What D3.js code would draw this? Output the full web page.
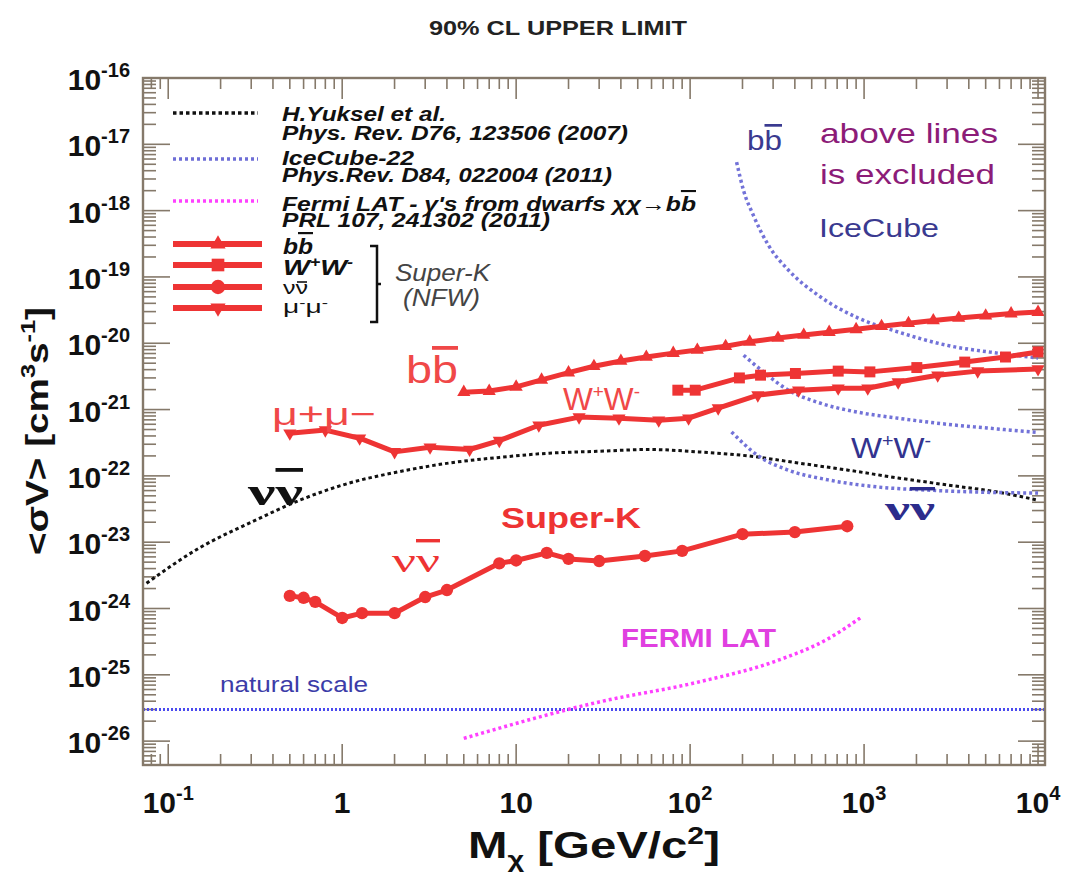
<!DOCTYPE html>
<html>
<head>
<meta charset="utf-8">
<script src="https://cdn.jsdelivr.net/npm/d3@7"></script>
<style>
  body { margin: 0; background: #fff; }
  text { font-family: "Liberation Sans", Arial, sans-serif; }
</style>
</head>
<body>
<svg id="chart" width="1069" height="877"></svg>
<script>
// ---- data (mass in GeV, <sigma v> in cm^3/s) ----
const yukselMass = [0.075, 0.15, 0.3, 0.57, 1.1, 2.1, 4.1, 8, 15.5, 30, 58, 112, 216, 420, 810, 1570, 3000, 5850, 10000];
const yukselSigv = [2.4e-24, 8.1e-24, 2.0e-23, 4.3e-23, 7.8e-23, 1.15e-22, 1.56e-22, 1.9e-22, 2.2e-22, 2.35e-22, 2.5e-22, 2.3e-22, 2.0e-22, 1.56e-22, 1.22e-22, 9.3e-23, 7.3e-23, 5.7e-23, 4.3e-23];

const icBBMass = [185, 203, 231, 282, 367, 544, 925, 1570, 3000, 5850, 10000];
const icBBSigv = [5.4e-18, 2.0e-18, 8.5e-19, 3.0e-19, 1.27e-19, 5.3e-20, 2.4e-20, 1.48e-20, 9.3e-21, 7.1e-21, 6.0e-21];

const icWWMass = [203, 264, 367, 544, 925, 1570, 3000, 5850, 10000];
const icWWSigv = [6.6e-21, 3.7e-21, 1.96e-21, 1.28e-21, 9.1e-22, 7.4e-22, 6.0e-22, 5.1e-22, 4.5e-22];

const icNuMass = [173, 247, 367, 622, 1200, 2330, 4500, 10000];
const icNuSigv = [4.6e-22, 2.0e-22, 1.22e-22, 8.7e-23, 6.8e-23, 6.1e-23, 5.7e-23, 5.5e-23];

const fermiMass = [5, 30, 112, 321, 622, 950];
const fermiSigv = [1.1e-26, 3.9e-26, 7.8e-26, 1.66e-25, 3.5e-25, 7.2e-25];

const naturalScale = 3e-26;

const skBBMass = [5, 7, 10, 14, 20, 28, 40, 56, 80, 110, 160, 220, 320, 450, 630, 900, 1260, 1800, 2500, 3500, 5000, 7000, 10000];
const skBBSigv = [1.83e-21, 1.9e-21, 2.2e-21, 2.8e-21, 3.6e-21, 4.5e-21, 5.4e-21, 6.2e-21, 7.1e-21, 7.9e-21, 9.0e-21, 1.05e-20, 1.2e-20, 1.33e-20, 1.47e-20, 1.62e-20, 1.8e-20, 2.0e-20, 2.2e-20, 2.4e-20, 2.6e-20, 2.8e-20, 2.95e-20];

const skWWMass = [85, 107, 192, 254, 403, 710, 1080, 2010, 3790, 6500, 10000];
const skWWSigv = [1.96e-21, 1.96e-21, 3.0e-21, 3.3e-21, 3.5e-21, 3.8e-21, 3.7e-21, 4.3e-21, 5.2e-21, 6.2e-21, 7.4e-21];

const skMuMass = [0.5, 0.8, 1.26, 2, 3.2, 5.4, 8, 13.5, 23, 39, 66, 98, 145, 245, 420, 710, 1050, 1570, 2650, 4500, 10000];
const skMuSigv = [4.4e-22, 4.9e-22, 3.7e-22, 2.3e-22, 2.7e-22, 2.5e-22, 3.4e-22, 5.8e-22, 7.7e-22, 7.4e-22, 6.9e-22, 7.4e-22, 1.05e-21, 1.65e-21, 1.96e-21, 2.1e-21, 2.1e-21, 2.6e-21, 3.3e-21, 3.8e-21, 4.1e-21];

const skNuMass = [0.5, 0.6, 0.7, 1, 1.3, 2, 3, 4, 8, 10, 15, 20, 30, 55, 90, 200, 400, 800];
const skNuSigv = [1.55e-24, 1.45e-24, 1.26e-24, 7.2e-25, 8.5e-25, 8.5e-25, 1.49e-24, 1.9e-24, 4.8e-24, 5.3e-24, 6.9e-24, 5.6e-24, 5.2e-24, 6.2e-24, 7.4e-24, 1.32e-23, 1.42e-23, 1.74e-23];

const xTickVals = [0.1, 1, 10, 100, 1000, 10000];
const xTickBase = ["10", "1", "10", "10", "10", "10"];
const xTickExp = ["-1", "", "", "2", "3", "4"];
const yTickExps = [-16, -17, -18, -19, -20, -21, -22, -23, -24, -25, -26];

// ---- layout ----
const plot = { left: 143, right: 1045, top: 78, bottom: 765 };
const red = "#ee3434";
const axisCol = "#85796a";

const svg = d3.select("#chart");

const x = d3.scaleLog()
  .domain([Math.pow(10, -1.145), Math.pow(10, 4.04)])
  .range([plot.left, plot.right]);
const y = d3.scaleLog()
  .domain([Math.pow(10, -26.36), 1e-16])
  .range([plot.bottom, plot.top]);

// stretch a text to a given width (the reference fonts run wide)
function fit(t, w) {
  return t.attr("textLength", w).attr("lengthAdjust", "spacingAndGlyphs");
}

svg.append("defs").append("clipPath").attr("id", "clip")
  .append("rect")
  .attr("x", plot.left).attr("y", plot.top)
  .attr("width", plot.right - plot.left).attr("height", plot.bottom - plot.top);

// ticks on all four sides, pointing inward
function logTicks(scale) {
  const [lo, hi] = scale.domain();
  const out = [];
  for (let e = Math.floor(Math.log10(lo)); e <= Math.ceil(Math.log10(hi)); e++) {
    for (let m = 1; m <= 9; m++) {
      const v = m * Math.pow(10, e);
      if (v >= lo * 0.9999 && v <= hi * 1.0001) out.push({ v: v, major: m === 1 });
    }
  }
  return out;
}

const ticksG = svg.append("g").attr("stroke", axisCol).attr("stroke-width", 1.6);
logTicks(x).forEach(t => {
  const len = t.major ? 21 : 11;
  ticksG.append("line").attr("x1", x(t.v)).attr("x2", x(t.v))
    .attr("y1", plot.bottom).attr("y2", plot.bottom - len);
  ticksG.append("line").attr("x1", x(t.v)).attr("x2", x(t.v))
    .attr("y1", plot.top).attr("y2", plot.top + len);
});
logTicks(y).forEach(t => {
  const len = t.major ? 27 : 13;
  ticksG.append("line").attr("y1", y(t.v)).attr("y2", y(t.v))
    .attr("x1", plot.left).attr("x2", plot.left + len);
  ticksG.append("line").attr("y1", y(t.v)).attr("y2", y(t.v))
    .attr("x1", plot.right).attr("x2", plot.right - len);
});

// tick labels
xTickVals.forEach((v, i) => {
  const t = svg.append("text")
    .attr("x", x(v)).attr("y", 813)
    .attr("text-anchor", "middle")
    .attr("font-weight", "bold").attr("font-size", 30).attr("fill", "#111");
  t.append("tspan").text(xTickBase[i]);
  if (xTickExp[i]) t.append("tspan").attr("dy", -13).attr("font-size", 20).text(xTickExp[i]);
});
yTickExps.forEach(e => {
  const t = svg.append("text")
    .attr("x", 130).attr("y", y(Math.pow(10, e)) + 12)
    .attr("text-anchor", "end")
    .attr("font-weight", "bold").attr("font-size", 30).attr("fill", "#111");
  t.append("tspan").text("10");
  t.append("tspan").attr("dy", -13).attr("font-size", 20).text(String(e));
});

// ---- curves ----
const line = d3.line().x(d => x(d[0])).y(d => y(d[1])).curve(d3.curveMonotoneX);
const straight = d3.line().x(d => x(d[0])).y(d => y(d[1]));
const zip = (a, b) => a.map((m, i) => [m, b[i]]);
const curves = svg.append("g").attr("clip-path", "url(#clip)");

curves.append("line")
  .attr("x1", plot.left).attr("x2", plot.right)
  .attr("y1", y(naturalScale)).attr("y2", y(naturalScale))
  .attr("stroke", "#4b4bef").attr("stroke-width", 3).attr("stroke-dasharray", "2,2");

curves.append("path").datum(zip(yukselMass, yukselSigv))
  .attr("d", line).attr("fill", "none")
  .attr("stroke", "#111").attr("stroke-width", 3).attr("stroke-dasharray", "3.5,3");

[[icBBMass, icBBSigv], [icWWMass, icWWSigv], [icNuMass, icNuSigv]].forEach(s => {
  curves.append("path").datum(zip(s[0], s[1]))
    .attr("d", line).attr("fill", "none")
    .attr("stroke", "#7272d8").attr("stroke-width", 3.5).attr("stroke-dasharray", "3,3");
});

curves.append("path").datum(zip(fermiMass, fermiSigv))
  .attr("d", line).attr("fill", "none")
  .attr("stroke", "#ff40ff").attr("stroke-width", 3.5).attr("stroke-dasharray", "3,3");

const skSeries = [
  { m: skBBMass, s: skBBSigv, sym: d3.symbolTriangle, size: 75, rot: 0 },
  { m: skWWMass, s: skWWSigv, sym: d3.symbolSquare, size: 120, rot: 0 },
  { m: skMuMass, s: skMuSigv, sym: d3.symbolTriangle, size: 75, rot: 180 },
  { m: skNuMass, s: skNuSigv, sym: d3.symbolCircle, size: 120, rot: 0 }
];
skSeries.forEach(sr => {
  const pts = zip(sr.m, sr.s);
  curves.append("path").datum(pts)
    .attr("d", straight).attr("fill", "none")
    .attr("stroke", red).attr("stroke-width", 5).attr("stroke-linejoin", "round");
  curves.selectAll(null).data(pts).enter().append("path")
    .attr("d", d3.symbol().type(sr.sym).size(sr.size))
    .attr("transform", d => `translate(${x(d[0])},${y(d[1])}) rotate(${sr.rot})`)
    .attr("fill", red);
});

// frame
svg.append("rect")
  .attr("x", plot.left).attr("y", plot.top)
  .attr("width", plot.right - plot.left).attr("height", plot.bottom - plot.top)
  .attr("fill", "none").attr("stroke", axisCol).attr("stroke-width", 2.4);

// ---- titles ----
fit(svg.append("text").attr("x", 558).attr("y", 35).attr("text-anchor", "middle")
  .attr("font-weight", "bold").attr("font-size", 21).attr("fill", "#222")
  .text("90% CL UPPER LIMIT"), 258);

const yt = svg.append("text")
  .attr("transform", "translate(48,431) rotate(-90)")
  .attr("text-anchor", "middle")
  .attr("font-weight", "bold").attr("font-size", 32).attr("fill", "#111");
yt.append("tspan").text("<σV> [cm");
yt.append("tspan").attr("dy", -13).attr("font-size", 21).text("3");
yt.append("tspan").attr("dy", 13).text("s");
yt.append("tspan").attr("dy", -13).attr("font-size", 21).text("-1");
yt.append("tspan").attr("dy", 13).text("]");
fit(yt, 248);

const xt = svg.append("text")
  .attr("x", 594).attr("y", 858).attr("text-anchor", "middle")
  .attr("font-weight", "bold").attr("font-size", 36).attr("fill", "#111");
xt.append("tspan").text("M");
xt.append("tspan").attr("dy", 9).attr("font-size", 22).text("χ");
xt.append("tspan").attr("dy", -9).text(" [GeV/c");
xt.append("tspan").attr("dy", -14).attr("font-size", 23).text("2");
xt.append("tspan").attr("dy", 14).text("]");
fit(xt, 252);

// ---- legend ----
const leg = svg.append("g");
const legDotted = [
  { y: 113, col: "#111", dash: "3.5,3", l1: "H.Yuksel et al.", l2: "Phys. Rev. D76, 123506 (2007)", b1: 121, b2: 140, w1: 164, w2: 346 },
  { y: 159, col: "#6e6ed6", dash: "3,3", l1: "IceCube-22", l2: "Phys.Rev. D84, 022004 (2011)", b1: 165, b2: 182, w1: 132, w2: 330 },
  { y: 201, col: "#ff40ff", dash: "3,3", l1: "Fermi LAT - γ's from dwarfs χχ→b", l2: "PRL 107, 241302 (2011)", b1: 211, b2: 227, w1: 414, w2: 268 }
];
legDotted.forEach((d, i) => {
  leg.append("line").attr("x1", 173).attr("x2", 258).attr("y1", d.y).attr("y2", d.y)
    .attr("stroke", d.col).attr("stroke-width", 3.5).attr("stroke-dasharray", d.dash);
  const t1 = leg.append("text").attr("x", 282).attr("y", d.b1)
    .attr("font-weight", "bold").attr("font-style", "italic").attr("font-size", 21).attr("fill", "#111");
  t1.append("tspan").text(d.l1);
  if (i === 2) t1.append("tspan").style("text-decoration", "overline").text("b");
  fit(t1, d.w1);
  fit(leg.append("text").attr("x", 282).attr("y", d.b2)
    .attr("font-weight", "bold").attr("font-style", "italic").attr("font-size", 21).attr("fill", "#111")
    .text(d.l2), d.w2);
});

const legRed = [
  { y: 244, sym: d3.symbolTriangle, size: 100, rot: 0 },
  { y: 265, sym: d3.symbolSquare, size: 160, rot: 0 },
  { y: 287, sym: d3.symbolCircle, size: 160, rot: 0 },
  { y: 308, sym: d3.symbolTriangle, size: 100, rot: 180 }
];
legRed.forEach(d => {
  leg.append("line").attr("x1", 173).attr("x2", 262).attr("y1", d.y).attr("y2", d.y)
    .attr("stroke", red).attr("stroke-width", 6);
  leg.append("path").attr("d", d3.symbol().type(d.sym).size(d.size)())
    .attr("transform", `translate(218,${d.y}) rotate(${d.rot})`).attr("fill", red);
});
const lb = leg.append("text").attr("x", 283).attr("y", 254)
  .attr("font-weight", "bold").attr("font-style", "italic").attr("font-size", 22).attr("fill", "#111");
lb.append("tspan").text("b");
lb.append("tspan").style("text-decoration", "overline").text("b");
fit(lb, 30);
const lw = leg.append("text").attr("x", 283).attr("y", 275)
  .attr("font-weight", "bold").attr("font-style", "italic").attr("font-size", 22).attr("fill", "#111");
lw.append("tspan").text("W");
lw.append("tspan").attr("dy", -8).attr("font-size", 14).text("+");
lw.append("tspan").attr("dy", 8).text("W");
lw.append("tspan").attr("dy", -8).attr("font-size", 14).text("-");
fit(lw, 70);
fit(leg.append("text").attr("x", 283).attr("y", 294)
  .attr("font-size", 18).attr("fill", "#111").text("νν"), 25);
// bar over the second nu, just above its x-height
leg.append("line").attr("x1", 297).attr("x2", 307).attr("y1", 282).attr("y2", 282)
  .attr("stroke", "#111").attr("stroke-width", 1.6);
const lm = leg.append("text").attr("x", 283).attr("y", 313)
  .attr("font-size", 18).attr("fill", "#111");
lm.append("tspan").text("μ");
lm.append("tspan").attr("dy", -6).attr("font-size", 12).text("-");
lm.append("tspan").attr("dy", 6).text("μ");
lm.append("tspan").attr("dy", -6).attr("font-size", 12).text("-");
fit(lm, 45);

leg.append("path").attr("d", "M370,246 H377 V322 H370 M377,284 H381")
  .attr("fill", "none").attr("stroke", "#111").attr("stroke-width", 2.5);
fit(leg.append("text").attr("x", 395).attr("y", 281)
  .attr("font-style", "italic").attr("font-size", 23).attr("fill", "#444").text("Super-K"), 95);
fit(leg.append("text").attr("x", 403).attr("y", 306)
  .attr("font-style", "italic").attr("font-size", 23).attr("fill", "#444").text("(NFW)"), 77);

// ---- annotations ----
function barPair(xp, yp, ch, opts) {
  const t = svg.append("text").attr("x", xp).attr("y", yp)
    .attr("font-size", opts.size).attr("fill", opts.col)
    .attr("font-weight", opts.bold ? "bold" : "normal");
  if (opts.serif) t.style("font-family", "'Liberation Serif', 'Times New Roman', serif");
  t.append("tspan").text(ch);
  t.append("tspan").style("text-decoration", "overline").text(ch);
  return fit(t, opts.w);
}
function wpair(xp, yp, size, col, w) {
  const t = svg.append("text").attr("x", xp).attr("y", yp)
    .attr("font-size", size).attr("fill", col);
  t.append("tspan").text("W");
  t.append("tspan").attr("dy", -size * 0.38).attr("font-size", size * 0.6).text("+");
  t.append("tspan").attr("dy", size * 0.38).text("W");
  t.append("tspan").attr("dy", -size * 0.38).attr("font-size", size * 0.6).text("-");
  return fit(t, w);
}
function note(xp, yp, str, size, col, w, bold) {
  return fit(svg.append("text").attr("x", xp).attr("y", yp)
    .attr("font-size", size).attr("fill", col)
    .attr("font-weight", bold ? "bold" : "normal").text(str), w);
}

barPair(406, 383, "b", { size: 38, col: "#f04848", w: 52 });
wpair(563, 410, 31, "#f04848", 77);
note(272, 425, "μ+μ−", 32, "#f04848", 104);
barPair(248, 505, "ν", { size: 38, col: "#111", bold: true, serif: true, w: 55 });
note(501, 528, "Super-K", 30, "#ee3333", 140, true);
barPair(392, 572, "ν", { size: 34, col: "#ee3333", serif: true, w: 48 });
note(621, 647, "FERMI LAT", 26, "#e040e0", 155, true);
note(220, 692, "natural scale", 22, "#3c3ca8", 148);
wpair(851, 458, 30, "#33338f", 80);
barPair(885, 520, "ν", { size: 34, col: "#2c2c8c", bold: true, serif: true, w: 50 });
barPair(747, 150, "b", { size: 27, col: "#3a3a90", w: 35 });
note(820, 143, "above lines", 28, "#8c1c78", 178);
note(820, 184, "is excluded", 28, "#8c1c78", 175);
note(819, 237, "IceCube", 25, "#3a3a90", 120);
</script>
</body>
</html>
